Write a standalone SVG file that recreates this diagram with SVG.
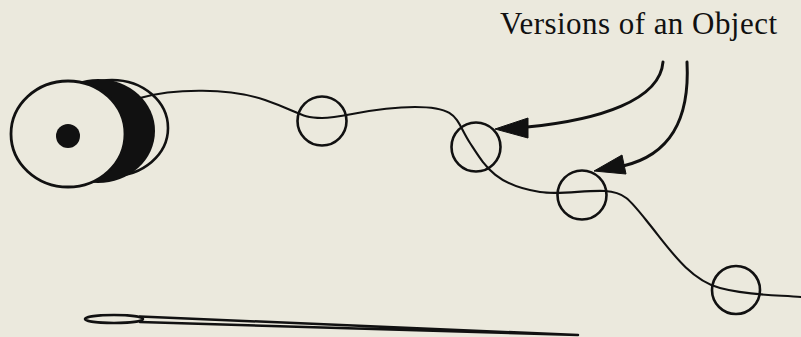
<svg xmlns="http://www.w3.org/2000/svg" width="801" height="337" viewBox="0 0 801 337">
<style>
.ln{fill:none;stroke:#111;stroke-linecap:round;stroke-linejoin:round}
.ver{fill:none;stroke:#111;stroke-width:2.6}
.thread{stroke-width:2.1}
.arr{stroke-width:3}
.head{fill:#111;stroke:#111;stroke-width:1;stroke-linejoin:round}
.lbl{font-family:"Liberation Serif","Times New Roman",serif;font-size:31px;fill:#111}
</style>
<rect width="801" height="337" fill="#ebe9dd"/>
<g id="spool">
<ellipse cx="112" cy="128" rx="56" ry="48" fill="#ebe9dd" stroke="#111" stroke-width="2.6"/>
<ellipse cx="98" cy="131" rx="57" ry="52" fill="#111"/>
<ellipse cx="68" cy="134" rx="57" ry="53" fill="#ebe9dd" stroke="#111" stroke-width="2.8"/>
<circle cx="68" cy="136" r="12" fill="#111"/>
</g>
<g id="connectors">
<path class="ln thread" d="M140,98 C175,88 230,88 265,100 S300,118 322,118 S370,107 415,107 S455,120 470,143 S495,185 540,192 C560,195 585,190 605,191 S630,200 650,225 S690,280 720,288 S780,295 801,297"/>
<path class="ln arr" d="M663,62 C660,100 600,120 527,127"/>
<polygon class="head" points="495,129 528,118 528,138"/>
<path class="ln arr" d="M687,62 C690,120 670,155 623,166"/>
<polygon class="head" points="594,171 622,155 626,174"/>
</g>
<g id="version1"><circle class="ver" cx="322" cy="121" r="24.5"/></g>
<g id="version2"><circle class="ver" cx="476" cy="147" r="24.5"/></g>
<g id="version3"><circle class="ver" cx="582" cy="195" r="24.5"/></g>
<g id="version4"><circle class="ver" cx="736" cy="290" r="24"/></g>
<g id="label"><text class="lbl" x="500" y="34" textLength="277" lengthAdjust="spacing">Versions of an Object</text></g>
<g id="needle">
<ellipse cx="114" cy="319" rx="29" ry="4" fill="none" stroke="#111" stroke-width="2.6"/>
<path class="ln" stroke-width="2.5" d="M140,316.5 L578,335 L140,322"/>
</g>
</svg>
